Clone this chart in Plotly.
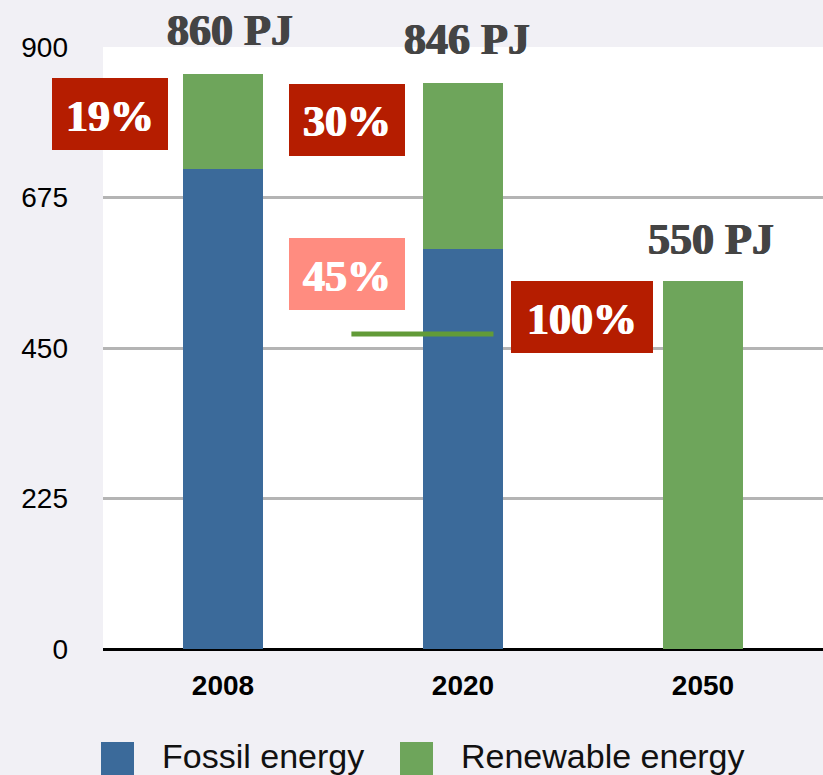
import plotly.graph_objects as go

# ---- data ----
years = ["2008", "2020", "2050"]
fossil = [718, 598, 0]
renewable = [142, 248, 550]
y_ticks = [0, 225, 450, 675, 900]
share_labels = ["19%", "30%", "45%", "100%"]
target_2020 = 471  # green target line level

totals = [f + r for f, r in zip(fossil, renewable)]

# ---- geometry helpers (pixel -> paper) ----
W, H = 823, 775
L, T, PW, PH = 103, 47, 720, 602


def px(x):
    return (x - L) / PW


def py(y):
    return (T + PH - y) / PH


BLUE = "#3B6A9A"
GREEN = "#6EA55B"
DARKRED = "#B51D00"
PINK = "#FF8C80"
BG = "#F1F0F5"

fig = go.Figure()
fig.add_trace(go.Bar(x=years, y=fossil, name="Fossil energy", marker_color=BLUE,
                     width=0.33, marker_line_width=0))
fig.add_trace(go.Bar(x=years, y=renewable, name="Renewable energy", marker_color=GREEN,
                     width=0.33, marker_line_width=0))

serif = "Liberation Serif, DejaVu Serif, serif"
sans = "Liberation Sans, Arial, sans-serif"


def thick(c):
    return f"0.7px 0 0 {c}, -0.7px 0 0 {c}"


# totals above bars
pj_pos = [(229.5, 28.5), (467, 38), (711, 237)]
for tot, (cx, cy) in zip(totals, pj_pos):
    fig.add_annotation(xref="paper", yref="paper", x=px(cx), y=py(cy + 2),
                       text=f"{tot} PJ", showarrow=False, xanchor="center", yanchor="middle",
                       font=dict(family=serif, size=44, color="#444444", weight="bold",
                                 shadow=thick("#444444")))

# percentage boxes
boxes = [(52, 168, 78, 150, DARKRED), (289, 405, 84, 156, DARKRED),
         (289, 405, 238, 310, PINK), (511, 653, 281, 353, DARKRED)]
for lab, (x0, x1, y0, y1, col) in zip(share_labels, boxes):
    fig.add_shape(type="rect", xref="paper", yref="paper", x0=px(x0), x1=px(x1),
                  y0=py(y1), y1=py(y0), fillcolor=col, line_width=0, layer="above")
    fig.add_annotation(xref="paper", yref="paper", x=px((x0 + x1) / 2), y=py((y0 + y1) / 2 + 2),
                       text=lab, showarrow=False, xanchor="center", yanchor="middle",
                       font=dict(family=serif, size=44, color="white", weight="bold",
                                 shadow=thick("white")))

# green target line in 2020
fig.add_shape(type="line", xref="x", yref="y", x0=0.535, x1=1.127,
              y0=target_2020, y1=target_2020, line=dict(color="#629B38", width=5), layer="above")

# custom legend
legend_items = [("Fossil energy", BLUE, 101, 160), ("Renewable energy", GREEN, 400, 459)]
for name, col, mx, tx in legend_items:
    fig.add_shape(type="rect", xref="paper", yref="paper", x0=px(mx), x1=px(mx + 33),
                  y0=py(777), y1=py(742), fillcolor=col, line_width=0)
    fig.add_annotation(xref="paper", yref="paper", x=px(tx), y=py(735),
                       text=name, showarrow=False, xanchor="left", yanchor="top",
                       font=dict(family=sans, size=34, color="#111111"))

fig.update_layout(
    width=W, height=H,
    margin=dict(l=L, r=W - L - PW, t=T, b=H - T - PH),
    paper_bgcolor=BG, plot_bgcolor="white",
    barmode="stack", showlegend=False,
    xaxis=dict(range=[-0.5, 2.5], showgrid=False, zeroline=False, showline=False, ticks="",
               tickfont=dict(family=sans, size=28, color="black", weight="bold"),
               ticklabelstandoff=17),
    yaxis=dict(range=[0, 900], tickvals=y_ticks, showgrid=True, gridcolor="#B4B4B4", gridwidth=2.5,
               zeroline=True, zerolinecolor="black", zerolinewidth=2.5, showline=False, ticks="",
               tickfont=dict(family=sans, size=28, color="black"), ticklabelstandoff=34),
)

fig.write_html("out.html")
